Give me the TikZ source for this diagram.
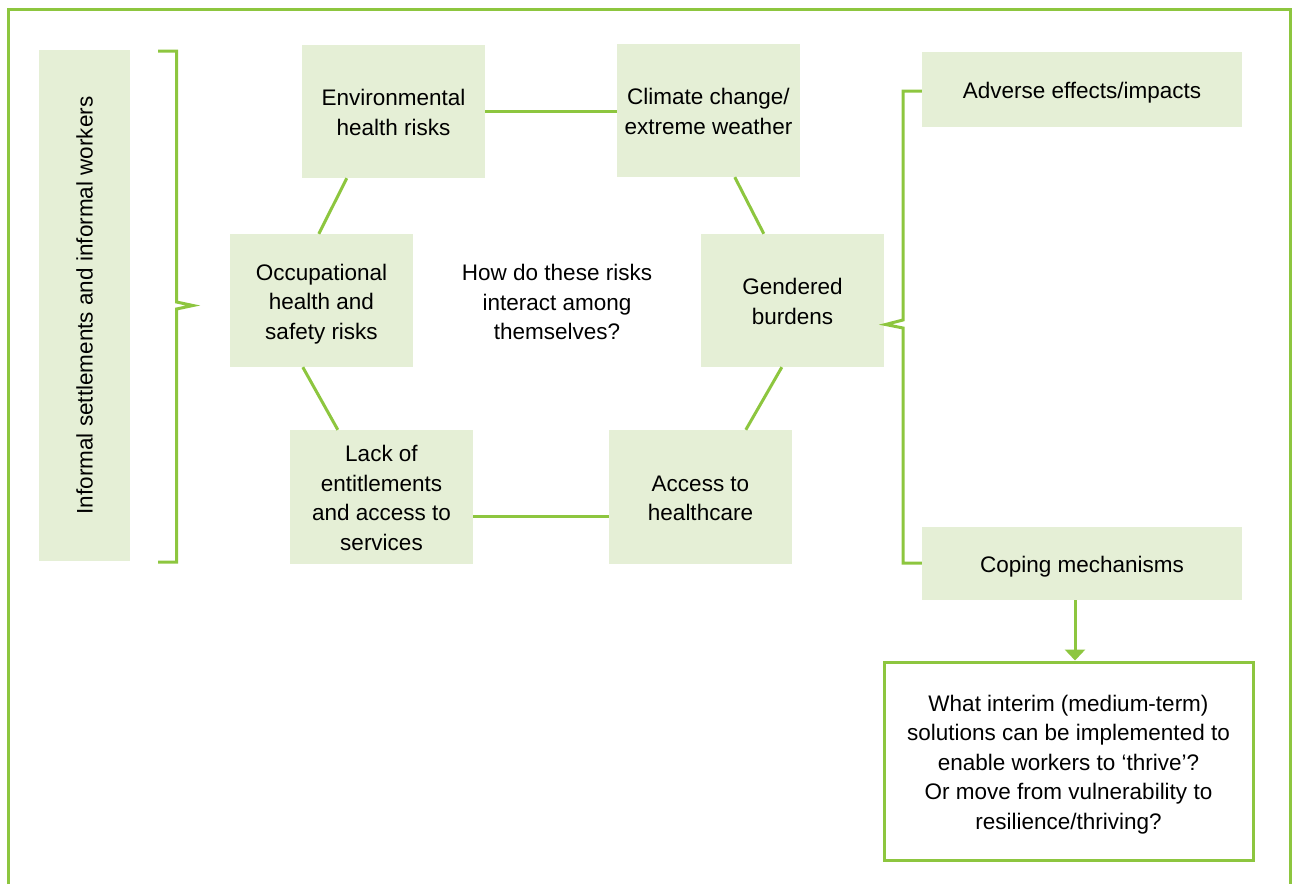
\documentclass[tikz,border=0pt]{standalone}
\usepackage{fontspec}
\setmainfont{Liberation Sans}
\usetikzlibrary{arrows.meta}
\definecolor{gline}{RGB}{141,198,63}
\definecolor{gfill}{RGB}{229,239,214}
\newcommand{\topstr}{\rule{0pt}{23pt}}
\newcommand{\botstr}{\rule[-5pt]{0pt}{5pt}}
\tikzset{
  gbox/.style={fill=gfill, draw=none, inner sep=0pt, align=center,
    font=\fontsize{22.5}{29.5}\selectfont, text=black},
  gconn/.style={draw=gline, line width=3pt},
  qbox/.style={fill=white, draw=gline, line width=3pt, inner sep=0pt, align=center,
    font=\fontsize{22.5}{29.5}\selectfont},
  garrow/.style={gconn, -{Triangle[width=20pt,length=11pt]}},
}
\begin{document}
\begin{tikzpicture}[x=1pt,y=-1pt]
\useasboundingbox (0,0) rectangle (1293,884);
% frame (open at bottom)
\draw[gconn, line join=miter] (8.5,884) -- (8.5,9.5) -- (1290,9.5) -- (1290,884);

% left vertical box
\node[gbox, rotate=90, minimum width=511pt, minimum height=91pt] (inf) at (84.5,305.5)
  {Informal settlements and informal workers};

% risk boxes
\node[gbox, minimum width=183pt, minimum height=133pt] (env) at (393.5,111.5)
  {\topstr Environmental\\health risks\botstr};
\node[gbox, minimum width=183pt, minimum height=133pt] (clim) at (708.5,110.5)
  {\topstr Climate change/\\extreme weather\botstr};
\node[gbox, minimum width=183pt, minimum height=133pt] (occ) at (321.5,300.5)
  {\topstr Occupational\\health and\\safety risks\botstr};
\node[gbox, minimum width=183pt, minimum height=133pt] (gend) at (792.5,300.5)
  {\topstr Gendered\\burdens\botstr};
\node[gbox, minimum width=183pt, minimum height=134pt] (lack) at (381.5,497)
  {\topstr Lack of\\entitlements\\and access to\\services\botstr};
\node[gbox, minimum width=183pt, minimum height=134pt] (acc) at (700.5,497)
  {\topstr Access to\\healthcare\botstr};

% central question
\node[align=center, font=\fontsize{22.5}{29.5}\selectfont, inner sep=0pt] (q) at (557,302)
  {How do these risks\\interact among\\themselves?};

% right boxes
\node[gbox, minimum width=320pt, minimum height=75pt] (adv) at (1082,89.5)
  {\topstr Adverse effects/impacts\botstr};
\node[gbox, minimum width=320pt, minimum height=73pt] (cope) at (1082,563.5)
  {\topstr Coping mechanisms\botstr};
\node[qbox, minimum width=369pt, minimum height=198pt] (final) at (1068.5,761)
  {\topstr What interim (medium-term)\\solutions can be implemented to\\enable workers to ‘thrive’?\\Or move from vulnerability to\\resilience/thriving?\botstr};

% connectors of the ring
\draw[gconn] (env.east) -- (env.east -| clim.west);
\draw[gconn] ([xshift=45pt]env.south west) -- ([xshift=89pt]occ.north west);
\draw[gconn] ([xshift=73pt]occ.south west) -- ([xshift=48pt]lack.north west);
\draw[gconn] ([xshift=118pt]clim.south west) -- ([xshift=63pt]gend.north west);
\draw[gconn] ([xshift=81pt]gend.south west) -- ([xshift=137pt]acc.north west);
\draw[gconn] ([yshift=-19.5pt]lack.east) -- ([yshift=-19.5pt]acc.west);

% arrow to final box
\coordinate (cs) at ([xshift=-7pt]cope.south);
\draw[garrow] (cs) -- (cs |- final.north);

% left bracket
\draw[gconn, line join=miter] (158,51) -- (176.5,51) -- (176.5,302) -- (193,305.5)
  -- (176.5,309) -- (176.5,562) -- (158,562);

% right bracket
\draw[gconn, line join=miter] (adv.west |- 0,91) -- (903,91) -- (903,320) -- (885.5,324.5)
  -- (903,328) -- (903,563) -- (cope.west |- 0,563);
\end{tikzpicture}
\end{document}
